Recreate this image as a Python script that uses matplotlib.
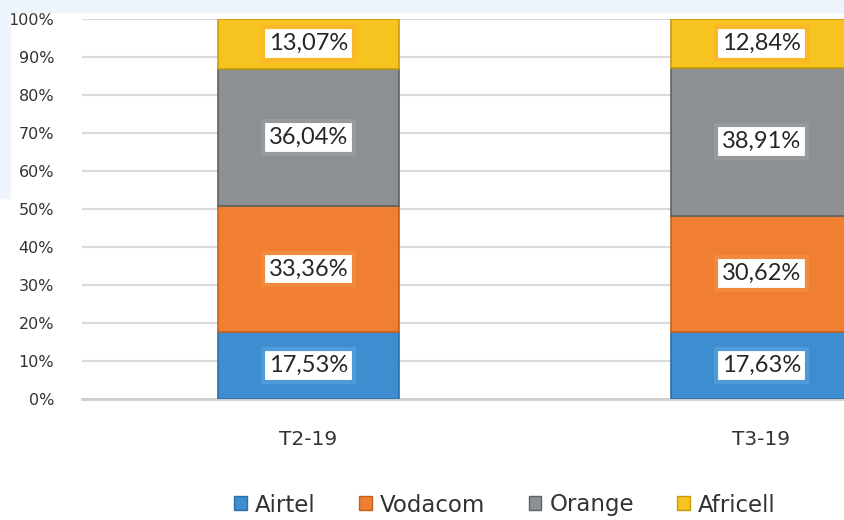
import matplotlib.pyplot as plt
import matplotlib.patches as mpatches
import numpy as np

# данные
periodes = ['T2-19', 'T3-19']
operateurs = ['Airtel', 'Vodacom', 'Orange', 'Africell']
airtel = [17.53, 17.63]
vodacom = [33.36, 30.62]
orange = [36.04, 38.91]
africell = [13.07, 12.84]

couleurs = ['#3d8dd0', '#f07f31', '#8d9092', '#f7c31f']
bords = ['#2f6fa6', '#c4611c', '#5f6264', '#c99a10']
cadres = ['#4f9ad8', '#f28a3e', '#979a9c', '#fbb72a']

fig = plt.figure(figsize=(8.45, 5.2), dpi=100)
# лёгкий голубой фон сверху, как в оригинале
fig.patches.append(mpatches.Rectangle((0, 0.977), 1, 0.023, transform=fig.transFigure,
                                      color='#eef4fb', zorder=0))
fig.patches.append(mpatches.Rectangle((0, 0.62), 0.012, 0.38, transform=fig.transFigure,
                                      color='#eef4fb', zorder=0))

# оси шире картинки: правый столбец обрезан
ax = fig.add_axes([82 / 845, 1 - 399 / 520, 906 / 845, 380 / 520])

x = np.arange(len(periodes))
series = [airtel, vodacom, orange, africell]
bottom = np.zeros(len(periodes))
for i, vals in enumerate(series):
    vals = np.array(vals)
    ax.bar(x, vals, 0.4, bottom=bottom, color=couleurs[i], edgecolor=bords[i],
           linewidth=1.2, zorder=3, label=operateurs[i])
    for xi, v, b in zip(x, vals, bottom):
        ax.text(xi, b + v / 2, f'{v:.2f}%'.replace('.', ','), ha='center', va='center',
                fontsize=17, color='#262626', family='Lato', zorder=5,
                bbox=dict(boxstyle='square,pad=0.25', fc='white', ec=cadres[i], lw=3))
    bottom = bottom + vals

ax.set_xlim(-0.5, 1.5)
ax.set_ylim(0, 100)
ax.set_yticks(np.arange(0, 101, 10))
ax.set_yticklabels([f'{t}%' for t in range(0, 101, 10)], fontsize=11.5, color='#333333')
ax.set_xticks(x)
ax.set_xticklabels(periodes, fontsize=14.5, color='#333333')
ax.tick_params(axis='x', length=0, pad=22)
ax.tick_params(axis='y', length=0, pad=20)
ax.grid(axis='y', color='#d9d9d9', linewidth=1.5, zorder=0)
for s in ['top', 'right', 'left']:
    ax.spines[s].set_visible(False)
ax.spines['bottom'].set_color('#cfcfcf')
ax.spines['bottom'].set_linewidth(2)

handles = [mpatches.Patch(facecolor=couleurs[i], edgecolor=bords[i], label=operateurs[i])
           for i in range(4)]
fig.legend(handles=handles, loc='center', bbox_to_anchor=(505 / 845, 1 - 505 / 520), ncol=4,
           frameon=False, fontsize=16.5, handlelength=0.55, handleheight=0.55,
           handletextpad=0.35, columnspacing=1.9, labelcolor='#333333')

fig.savefig('out.png', dpi=100)
